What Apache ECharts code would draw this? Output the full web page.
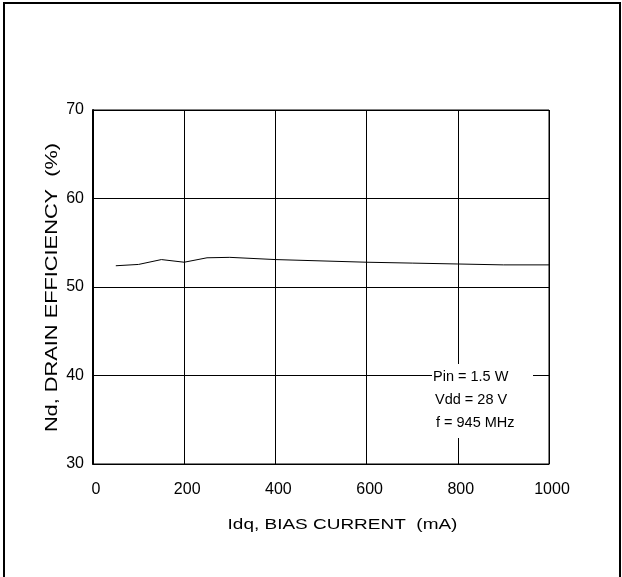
<!DOCTYPE html>
<html>
<head>
<meta charset="utf-8">
<script src="https://cdn.jsdelivr.net/npm/echarts@6/dist/echarts.min.js"></script>
<style>
html,body{margin:0;padding:0;background:#fff;}
#chart{width:622px;height:577px;}
</style>
</head>
<body>
<div id="chart"></div>
<script>
var biasCurrent = [50, 100, 150, 200, 250, 300, 400, 500, 600, 700, 800, 900, 1000];
var drainEfficiency = [52.4, 52.55, 53.1, 52.8, 53.3, 53.35, 53.1, 52.95, 52.8, 52.7, 52.6, 52.5, 52.5];
var xTicks = [0, 200, 400, 600, 800, 1000];
var yTicks = [30, 40, 50, 60, 70];
var xTitle = 'Idq, BIAS CURRENT  (mA)';
var yTitle = 'Nd, DRAIN EFFICIENCY  (%)';
var noteLines = ['Pin = 1.5 W', 'Vdd = 28 V', 'f = 945 MHz'];

var chart = echarts.init(document.getElementById('chart'));
var font = 'Liberation Sans, Arial, sans-serif';
var noteX = [433, 435, 436];
var notes = noteLines.map(function (t, i) {
  return { type: 'text', x: noteX[i], y: 376.5 + i * 23, z: 21,
    style: { text: t, fontFamily: font, fontSize: 14.5, fill: '#000', verticalAlign: 'middle', align: 'left' } };
});
chart.setOption({
  animation: false,
  backgroundColor: '#fff',
  grid: { left: 93, right: 73, top: 110, bottom: 113, show: true, borderColor: '#000', borderWidth: 1 },
  xAxis: {
    type: 'value', min: xTicks[0], max: xTicks[xTicks.length - 1], interval: 200,
    axisLine: { show: true, lineStyle: { color: '#000', width: 1 } },
    axisTick: { show: false },
    axisLabel: { fontFamily: font, fontSize: 16, color: '#000', margin: 18, padding: [0, 0, 0, 6],
      formatter: function (v) { return String(v); } },
    splitLine: { show: true, lineStyle: { color: '#000', width: 1 } }
  },
  yAxis: {
    type: 'value', min: yTicks[0], max: yTicks[yTicks.length - 1], interval: 10,
    axisLine: { show: true, lineStyle: { color: '#000', width: 2 } },
    axisTick: { show: false },
    axisLabel: { fontFamily: font, fontSize: 16, color: '#000', margin: 9, padding: [3, 0, 0, 0] },
    splitLine: { show: true, lineStyle: { color: '#000', width: 1 } }
  },
  series: [{
    type: 'line',
    data: biasCurrent.map(function (x, i) { return [x, drainEfficiency[i]]; }),
    showSymbol: false, symbol: 'none',
    lineStyle: { color: '#000', width: 1 },
    z: 5
  }],
  graphic: [
    { type: 'polyline', shape: { points: [[4, 577], [4, 3], [620, 3], [620, 577]] },
      style: { stroke: '#000', lineWidth: 2, fill: null }, z: 10 },
    { type: 'rect', shape: { x: 432, y: 364, width: 101, height: 74 },
      style: { fill: '#fff' }, z: 20 },
    { type: 'text', x: 342.5, y: 524.5, scaleX: 1.224, z: 21,
      style: { text: xTitle, fontFamily: font, fontSize: 15.5, fill: '#000', align: 'center', verticalAlign: 'middle' } },
    { type: 'text', x: 52.5, y: 287.5, rotation: Math.PI / 2, scaleX: 1.32, z: 21,
      style: { text: yTitle, fontFamily: font, fontSize: 16.5, fill: '#000', align: 'center', verticalAlign: 'middle' } }
  ].concat(notes)
});
</script>
</body>
</html>
